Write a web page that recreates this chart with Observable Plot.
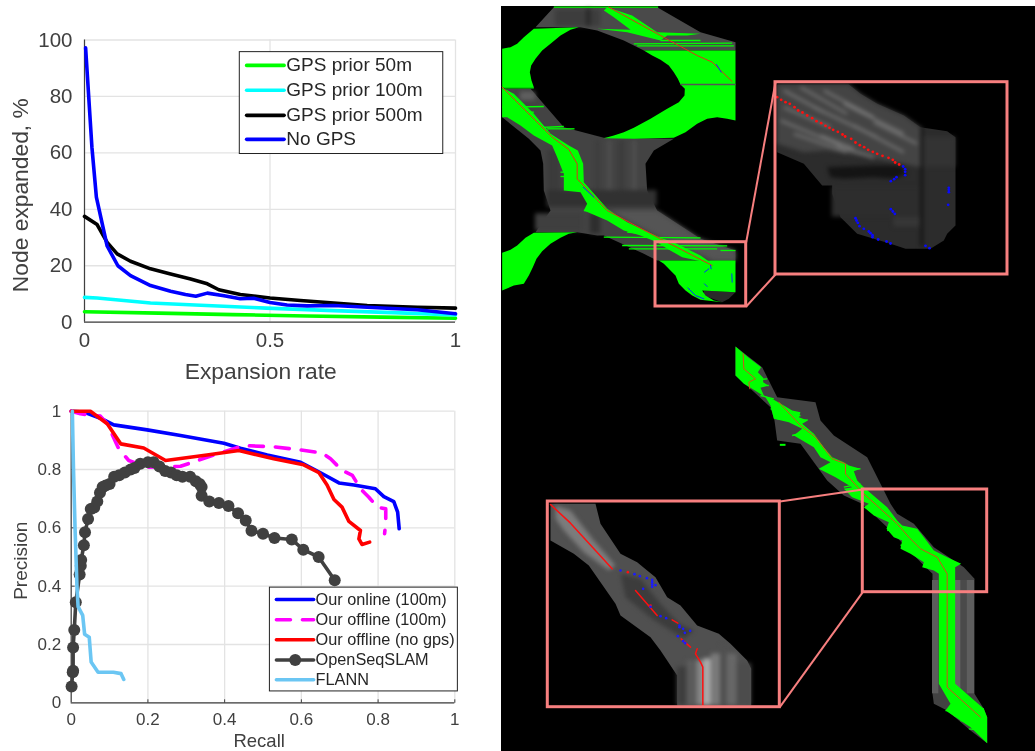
<!DOCTYPE html>
<html><head><meta charset="utf-8">
<script src="https://cdn.jsdelivr.net/npm/d3@7"></script>
<script src="https://cdn.jsdelivr.net/npm/@observablehq/plot@0.6"></script>
<style>
html,body{margin:0;padding:0;background:#fff;width:1035px;height:751px;overflow:hidden}
#page{position:relative;width:1035px;height:751px}
#page svg{position:absolute;overflow:visible;background:transparent}
#black{position:absolute;left:501px;top:6px;width:534px;height:745px;background:#000}
</style></head><body><div id="page"><div id="black"></div></div>
<script>
// ---------- left charts: [x, y]
const gps50=[[0,3.7],[.2,3.2],[.4,2.7],[.6,2.2],[.8,1.8],[1,1.4]];
const gps100=[[0,8.8],[.034,8.6],[.106,7.7],[.178,6.8],[.313,6],[.49,5],[.672,4.1],[.85,3.3],[1,2.6]];
const gps500=[[0,37.5],[.034,34.6],[.061,28.3],[.088,24.2],[.124,21.6],[.178,18.9],[.232,17.1],[.286,15.3],[.331,13.6],[.362,11.5],[.42,9.8],[.5,8.6],[.582,7.7],[.672,6.8],[.762,5.9],[.897,5.3],[1,5]];
const noGps=[[.003,97.2],[.02,62],[.032,44.3],[.061,27],[.09,20],[.124,16.5],[.178,13],[.232,11],[.272,9.8],[.3,9.2],[.331,10.3],[.376,9.4],[.42,8.3],[.456,8.5],[.5,7],[.546,6.1],[.6,5.8],[.672,5.9],[.762,5.3],[.897,4.4],[1,3]];
const legend1=[["GPS prior 50m","#00ff00",91],["GPS prior 100m","#00ffff",82.2],["GPS prior 500m","#000",73.3],["No GPS","#0000ff",64.8]];

const online=[[0,1],[.033,.997],[.076,.976],[.111,.953],[.198,.936],[.285,.917],[.398,.89],[.441,.873],[.511,.85],[.598,.825],[.65,.789],[.698,.754],[.737,.747],[.793,.734],[.815,.707],[.841,.69],[.851,.654],[.855,.597]];
const offline=[[0,1],[.024,.991],[.076,.983],[.094,.957],[.124,.871],[.15,.831],[.198,.808],[.285,.811],[.354,.842],[.45,.882],[.528,.878],[.598,.867],[.654,.857],[.676,.837],[.706,.797],[.733,.78],[.754,.734],[.776,.705],[.798,.671],[.82,.665],[.82,.62],[.817,.58]];
const noGpsOff=[[0,1],[.05,1],[.094,.957],[.129,.888],[.189,.874],[.246,.831],[.354,.85],[.437,.865],[.528,.837],[.606,.816],[.646,.789],[.667,.747],[.685,.697],[.706,.671],[.724,.622],[.754,.591],[.75,.562],[.758,.543],[.778,.551]];
const seqSlam=[[.001,.056],[.004,.105],[.005,.11],[.005,.19],[.008,.25],[.012,.345],[.022,.44],[.025,.47],[.026,.49],[.033,.54],[.036,.585],[.044,.63],[.051,.665],[.06,.67],[.068,.69],[.075,.72],[.082,.74],[.09,.745],[.1,.75],[.112,.775],[.125,.78],[.14,.79],[.155,.8],[.165,.805],[.18,.82],[.2,.825],[.215,.825],[.23,.81],[.245,.795],[.26,.79],[.275,.78],[.29,.775],[.31,.775],[.325,.76],[.335,.75],[.34,.74],[.34,.71],[.36,.69],[.385,.685],[.41,.675],[.435,.65],[.455,.625],[.47,.59],[.5,.58],[.53,.565],[.575,.56],[.605,.525],[.645,.5],[.687,.42]];
const flann=[[.003,1],[.006,.8],[.01,.6],[.015,.4],[.018,.33],[.03,.3],[.035,.235],[.047,.225],[.052,.14],[.07,.105],[.11,.105],[.13,.1],[.137,.08]];
const legend2=["Our online (100m)","Our offline (100m)","Our offline (no gps)","OpenSeqSLAM","FLANN"];
const legend2Y=[.354,.285,.216,.147,.079];
const tickValues2=[.2,.4,.6,.8,1];

// ---------- image A (top-left panel)
const aGray1=[[160,20],[470,20],[600,95],[705,125],[705,150],[430,150],[370,120],[290,90],[240,80],[105,80]];
const aGray2=[[5,265],[90,265],[190,380],[310,412],[520,415],[460,450],[435,490],[440,570],[470,630],[600,715],[705,750],[705,780],[470,780],[430,760],[310,705],[290,705],[230,695],[105,695],[150,630],[130,570],[128,490],[120,450],[85,415],[5,350]];
const aGray3=[[610,870],[705,875],[685,895],[665,905],[610,885]];
const aG1=[[5,145],[30,140],[50,130],[70,110],[100,85],[235,80],[210,88],[180,105],[150,130],[125,150],[105,175],[92,195],[88,215],[93,240],[100,260],[5,260]];
const aG2=[[430,150],[705,150],[705,360],[680,355],[650,350],[620,355],[590,370],[555,395],[520,412],[400,415],[310,413],[340,405],[370,395],[400,382],[450,355],[500,325],[535,305],[552,285],[553,265],[540,252],[532,235],[520,215],[505,195],[480,178],[455,165]];
const aG3=[[5,262],[40,280],[100,340],[150,400],[205,435],[232,450],[248,490],[250,545],[290,590],[320,625],[380,665],[480,712],[520,725],[600,765],[635,790],[545,770],[500,745],[470,725],[420,705],[370,690],[320,660],[250,630],[260,610],[240,575],[190,570],[190,520],[170,470],[155,435],[100,405],[60,375],[20,350],[5,350],[5,320]];
const aG4=[[5,757],[30,748],[50,735],[75,712],[100,697],[230,695],[205,700],[180,712],[150,730],[125,752],[108,775],[97,800],[85,825],[70,850],[40,855],[5,870]];
const aG5=[[475,780],[705,780],[705,875],[650,872],[605,870],[615,885],[640,900],[665,905],[600,898],[575,885],[555,870],[535,850],[525,825],[510,810],[490,790]];
const aG6=[[320,20],[395,45],[470,95],[600,100],[560,105],[500,105],[480,120],[380,95],[290,85],[390,88],[340,50],[310,30]];
const aGreenRays=[[160,20,473,20],[400,130,695,128],[410,136,700,136],[480,120,600,120],[540,252,705,252,"#555"],[5,262,100,262],[5,320,130,318],[40,335,100,335],[140,385,222,385],[90,382,190,378],[310,710,600,712],[365,735,680,736],[385,745,650,745],[660,750,705,750],[180,488,195,488],[180,515,195,515],[180,528,195,528],[250,630,320,635],[380,695,430,700]];
const aRed=[[5,260],[155,410],[205,447],[230,490],[230,535],[320,630],[480,715],[635,795]];
const aRed2=[[325,20],[480,105],[590,165],[635,185],[695,243]];
const aBlue=[[[648,192],[662,215]],[[630,795],[632,805]],[[612,815],[625,805]],[[612,850],[620,858]],[[694,820],[695,845]],[[562,862],[585,885],[610,895]],[[248,560],[280,590]]];
const aBands=[[165,300,28,78,"#3d3d3d"],[258,272,25,78,"#2a2a2a"],[285,300,420,570,"#3e3e3e"],[320,335,420,570,"#4d4d4d"],[355,372,420,570,"#3c3c3c"],[395,410,420,570,"#4e4e4e"],[140,180,450,570,"#3b3b3b"],[140,470,570,620,"#313131"],[105,250,640,692,"#3f3f3f"],[60,105,275,300,"#606060"],[270,300,640,700,"#2e2e2e"]];
const aLight=[[[330,630],[470,630],[600,715],[705,750],[705,780],[640,780],[480,710],[400,670]]];

// ---------- image B (top zoom)
const bGray=[[50,42],[265,42],[300,70],[350,100],[430,135],[480,170],[560,182],[585,200],[585,465],[560,490],[550,510],[510,535],[435,535],[390,520],[290,490],[240,440],[215,370],[215,345],[185,345],[130,280],[50,245]];
const bLight=[[50,42],[265,42],[300,70],[350,100],[430,135],[480,170],[480,290],[350,265],[200,240],[130,245],[50,220]];
const bDark=[[200,290],[340,285],[420,285],[440,310],[400,325],[340,320],[250,325],[210,320]];
const bStreaks=[[70,60,190,125],[120,50,260,130],[190,60,340,140],[70,110,210,170],[60,150,240,225],[160,110,350,200],[250,100,430,190],[100,190,260,245],[280,165,430,245],[340,155,470,220],[230,225,340,262],[180,195,280,235]];
const bBands=[[480,490,170,530,"#161616"],[490,585,200,290,"#333"],[215,480,350,440,"#2d2d2d"],[400,480,440,470,"#363636"]];
const bRed=[[50,80],[62,88],[75,95],[88,100],[102,110],[113,120],[126,126],[140,135],[155,143],[168,152],[182,158],[195,166],[207,172],[218,178],[232,184],[246,192],[254,198],[272,205],[285,216],[298,224],[311,230],[323,238],[337,244],[350,250],[366,256],[384,262],[397,268],[404,276],[416,282]];
const bBlue=[[428,288],[434,296],[434,304],[434,314],[408,320],[401,326],[391,332],[565,352],[565,358],[565,365],[563,403],[391,416],[397,423],[403,430],[285,443],[288,450],[292,457],[297,467],[310,475],[325,483],[330,488],[336,494],[336,500],[353,507],[378,513],[390,519],[495,526],[507,533]];

// ---------- image C (lower-right panel)
const cGray=[[45,18],[125,80],[170,170],[285,185],[300,240],[340,285],[440,350],[460,390],[510,490],[530,520],[580,550],[640,620],[730,680],[762,715],[762,1060],[790,1105],[800,1130],[800,1208],[750,1170],[680,1110],[640,1090],[636,1060],[636,700],[605,670],[500,560],[425,490],[370,465],[320,420],[240,310],[170,300],[162,240],[150,200],[90,145],[45,105]];
const cGreen=[[45,18],[80,48],[122,80],[112,95],[128,112],[128,125],[143,135],[120,142],[130,165],[160,178],[190,195],[215,210],[240,215],[235,230],[262,240],[245,250],[280,280],[310,320],[335,350],[370,365],[385,375],[420,385],[400,392],[410,420],[430,440],[470,475],[500,500],[530,540],[545,555],[590,565],[610,590],[640,630],[680,650],[722,670],[704,680],[704,1030],[790,1105],[800,1130],[800,1208],[750,1160],[675,1110],[690,1090],[655,1030],[655,700],[640,690],[605,680],[610,665],[570,640],[540,625],[545,600],[520,590],[498,565],[505,545],[460,525],[430,500],[445,490],[395,470],[370,445],[395,440],[345,410],[295,385],[330,365],[300,350],[280,320],[220,285],[245,265],[205,245],[160,235],[150,195],[135,170],[95,145],[70,130],[45,105]];
const cGreen2=[[178,310],[195,310],[195,316],[178,316]];
const cRays=[[100,118,140,115],[88,135,145,135],[120,165,160,175],[150,205,200,210],[170,235,240,225],[215,285,265,272],[240,240,262,238],[300,385,420,385],[345,405,400,390],[370,440,420,430],[500,570,530,560],[540,615,590,600],[675,1110,790,1105],[700,1125,770,1130],[720,1140,790,1150],[745,1165,790,1170]];
const cBands=[[636,655,720,1060,"#5c5c5c"],[704,722,720,1060,"#666"],[722,740,720,1060,"#4a4a4a"],[740,762,720,1060,"#5e5e5e"]];
const cRed=[[175,185],[240,255],[285,290],[335,355],[375,370],[375,400],[430,460],[530,550],[565,590],[600,625],[650,650],[680,700],[680,1040],[780,1130]];
const cRed2=[[68,40],[70,85],[105,115],[85,125],[88,145]];

// ---------- image D (lower zoom)
const dGray=[[30,40],[165,40],[180,100],[240,190],[290,215],[320,240],[345,260],[380,320],[420,345],[470,405],[535,430],[570,460],[620,510],[632,535],[632,645],[410,645],[410,555],[360,480],[330,440],[240,375],[225,340],[145,225],[100,190],[30,150]];
const dLight=[[45,45],[90,60],[160,150],[225,225],[205,240],[130,185],[70,120],[45,85]];
const dBands=[[410,440,530,645,"#3e3e3e"],[440,470,510,645,"#5c5c5c"],[470,490,510,645,"#858585"],[490,512,505,645,"#adadad"],[512,540,490,645,"#7a7a7a"],[540,560,465,645,"#505050"],[560,590,490,645,"#686868"],[590,632,520,645,"#4c4c4c"]];
const dDarkMid=[[240,250],[300,265],[360,340],[415,400],[460,420],[430,445],[335,385],[255,320]];
const dRed=[[[30,42],[90,98],[215,235]],[[285,300],[350,375]],[[395,388],[412,398]],[[422,445],[450,470]],[[470,475],[465,490],[480,515],[487,530],[487,645]]];
const dRedDots=[[262,245],[330,345]];
const dBlue=[[240,240],[282,251],[298,257],[319,263],[335,268],[335,275],[335,282],[345,284],[335,289],[308,295],[330,349],[360,377],[377,383],[417,405],[417,410],[428,415],[449,421],[433,427],[412,437],[428,452],[434,458]];

// ---------- pink call-out frames and connectors, in page pixels
const frames=[[655,241.7,745.7,306],[775,81.7,1007,274],[862.3,489,986.7,591.7],[547.3,501,779.3,706.7]];
const connectors=[[745.7,241.7,775,81.7],[745.7,306,775,274],[779.3,501,862.3,489],[779.3,706.7,862.3,591.7]];

const page=document.getElementById("page");
function put(el,left,top,blur){el.style.left=left+"px";el.style.top=top+"px";if(blur)el.style.filter=`blur(${blur}px)`;page.appendChild(el);}
const FX=d=>d[0],FY=d=>d[1];
const font="'Liberation Sans',Arial,sans-serif";
const INK="#404040",GRID="#e3e3e3",LW=3.6;

function series(data,stroke,extra={}){return Plot.line(data,{x:FX,y:FY,stroke,strokeWidth:LW,strokeLinejoin:"round",...extra});}
function axes(xTicks,yTicks,tickFont,xPad,yPad){
  const fmt=d=>String(d);
  return [
    Plot.ruleX(xTicks,{stroke:GRID,strokeWidth:1.3}),
    Plot.ruleY(yTicks,{stroke:GRID,strokeWidth:1.3}),
    Plot.ruleX([xTicks[0]],{stroke:INK,strokeWidth:1.2}),
    Plot.ruleY([yTicks[0]],{stroke:INK,strokeWidth:1.2}),
    Plot.axisX({ticks:xTicks,tickFormat:fmt,tickSize:0,tickPadding:xPad,fontSize:tickFont,color:INK,label:null}),
    Plot.axisY({ticks:yTicks,tickFormat:fmt,tickSize:0,tickPadding:yPad,fontSize:tickFont,color:INK,label:null})
  ];
}
// chart 1
const chart1=Plot.plot({width:500,height:395,marginLeft:84,marginRight:45,marginTop:39.5,marginBottom:73.3,
  style:{fontFamily:font,background:"transparent"},
  x:{domain:[0,1]},y:{domain:[0,100]},
  marks:[
    ...axes([0,.5,1],[0,20,40,60,80,100],20.5,10,12),
    series(gps50,"#00ff00"),series(gps100,"#00ffff"),series(gps500,"#000"),series(noGps,"#0000ff"),
    Plot.rect([0],{x1:.4186,x2:.967,y1:95.7,y2:59.6,fill:"#fff",stroke:"#222",strokeWidth:1}),
    ...legend1.map(r=>Plot.line([[.437,r[2]],[.538,r[2]]],{x:FX,y:FY,stroke:r[1],strokeWidth:LW})),
    Plot.text(legend1,{x:()=>.544,y:d=>d[2],text:d=>d[0],textAnchor:"start",fontSize:19,fill:"#262626"}),
    Plot.text(["Expansion rate"],{x:()=>.475,y:()=>-17.5,text:d=>d,fontSize:22.8,fill:INK}),
    Plot.text(["Node expanded, %"],{x:()=>-.173,y:()=>45,text:d=>d,fontSize:22.8,fill:INK,rotate:-90})
  ]});
put(chart1,0,0,0.35);
// chart 2
const chart2=Plot.plot({width:500,height:356,marginLeft:70.7,marginRight:45.7,marginTop:15.7,marginBottom:48.7,
  style:{fontFamily:font,background:"transparent"},
  x:{domain:[0,1]},y:{domain:[0,1]},
  marks:[
    ...axes([0,.2,.4,.6,.8,1],[0,.2,.4,.6,.8,1],17,10,10),
    Plot.link(tickValues2,{x1:d=>d,x2:d=>d,y1:()=>0,y2:()=>.012,stroke:INK,strokeWidth:1}),
    Plot.link(tickValues2,{y1:d=>d,y2:d=>d,x1:()=>0,x2:()=>.009,stroke:INK,strokeWidth:1}),
    series(online,"#0000ff"),
    series(offline,"#ff00ff",{strokeDasharray:"14,12"}),
    series(noGpsOff,"#ff0000"),
    series(seqSlam,INK),
    Plot.dot(seqSlam,{x:FX,y:FY,r:6,fill:INK}),
    series(flann,"#6bc6f3"),
    Plot.rect([0],{x1:.518,x2:1.008,y1:.395,y2:.039,fill:"#fff",stroke:"#222",strokeWidth:1}),
    Plot.line([[.535,.354],[.632,.354]],{x:FX,y:FY,stroke:"#0000ff",strokeWidth:LW}),
    Plot.line([[.535,.285],[.632,.285]],{x:FX,y:FY,stroke:"#ff00ff",strokeWidth:LW,strokeDasharray:"14,12"}),
    Plot.line([[.535,.216],[.632,.216]],{x:FX,y:FY,stroke:"#ff0000",strokeWidth:LW}),
    Plot.line([[.535,.147],[.632,.147]],{x:FX,y:FY,stroke:INK,strokeWidth:LW}),
    Plot.dot([[.584,.147]],{x:FX,y:FY,r:6,fill:INK}),
    Plot.line([[.535,.079],[.632,.079]],{x:FX,y:FY,stroke:"#6bc6f3",strokeWidth:LW}),
    Plot.text(legend2,{x:()=>.637,y:(d,i)=>legend2Y[i],text:d=>d,textAnchor:"start",fontSize:16.3,fill:"#262626"}),
    Plot.text(["Recall"],{x:()=>.49,y:()=>-.132,text:d=>d,fontSize:18.5,fill:INK}),
    Plot.text(["Precision"],{x:()=>-.132,y:()=>.487,text:d=>d,fontSize:19,fill:INK,rotate:-90})
  ]});
put(chart2,0,395,0.35);

// image regions: each is read in the coordinates of its own crop, 3 units per pixel
const poly=(pts,fill)=>Plot.line(pts,{x:FX,y:FY,fill,stroke:"none"});
const path=(pts,stroke,w)=>Plot.line(pts,{x:FX,y:FY,stroke,strokeWidth:w});
const segs=(arr,stroke,w)=>Plot.link(arr,{x1:d=>d[0],y1:d=>d[1],x2:d=>d[2],y2:d=>d[3],stroke:d=>d[4]||stroke,strokeWidth:w});
const bands=arr=>Plot.rect(arr,{x1:d=>d[0],x2:d=>d[1],y1:d=>d[2],y2:d=>d[3],fill:d=>d[4]});
const dots=(arr,fill,r)=>Plot.dot(arr,{x:FX,y:FY,fill,r,stroke:"none"});
function region(left,top,w,h,marks,blur){
  const p=Plot.plot({width:w,height:h,margin:0,x:{domain:[0,w*3],axis:null},y:{domain:[h*3,0],axis:null},color:{type:"identity"},
    style:{background:"transparent"},marks});
  put(p,left,top,blur);
}
// panel A
region(500,0,260,320,[poly(aGray1,"#4a4a4a"),poly(aGray2,"#434343"),poly(aGray3,"#2a2a2a")]);
region(500,0,260,320,[bands(aBands),poly(aLight[0],"#555")],2);
region(500,0,260,320,[
  poly(aG1,"#00ff00"),poly(aG2,"#00ff00"),poly(aG3,"#00ff00"),poly(aG4,"#00ff00"),poly(aG5,"#00ff00"),poly(aG6,"#00ff00"),
  segs(aGreenRays,"#00ff00",1.3),
  path(aRed,"#e0301a",1),path(aRed2,"#e0301a",1),
  ...aBlue.map(b=>path(b,"#0033ff",1))
]);
// panel B
region(760,70,260,210,[poly(bGray,"#2c2c2c")]);
region(760,70,260,210,[bands(bBands),poly(bLight,"#444"),segs(bStreaks,"#787878",2.2),poly(bDark,"#141414")],2);
region(760,70,260,210,[dots(bRed,"#ff1010",1.4),dots(bBlue,"#0a0aff",1.4)]);
// panel C
region(720,340,290,410,[poly(cGray,"#424242"),bands(cBands),poly(cGreen,"#00ff00"),poly(cGreen2,"#00ff00"),
  segs(cRays,"#00ff00",1.4),path(cRed,"#d2501a",1),path(cRed2,"#d2501a",1)]);
// panel D
region(540,490,250,225,[poly(dGray,"#505050")]);
region(540,490,250,225,[poly(dDarkMid,"#3c3c3c"),poly(dLight,"#7c7c7c"),bands(dBands)],2);
region(540,490,250,225,[...dRed.map(r=>path(r,"#ff1010",1.5)),dots(dRedDots,"#ff1010",1.3),dots(dBlue,"#1a1aff",1.3)]);

const overlay=Plot.plot({width:1035,height:751,margin:0,x:{domain:[0,1035],axis:null},y:{domain:[751,0],axis:null},
  style:{background:"transparent"},
  marks:[
    segs(connectors,"#f77f7f",2),
    Plot.rect(frames,{x1:d=>d[0],y1:d=>d[1],x2:d=>d[2],y2:d=>d[3],fill:"none",stroke:"#f77f7f",strokeWidth:3})
  ]});
put(overlay,0,0);
</script></body></html>
